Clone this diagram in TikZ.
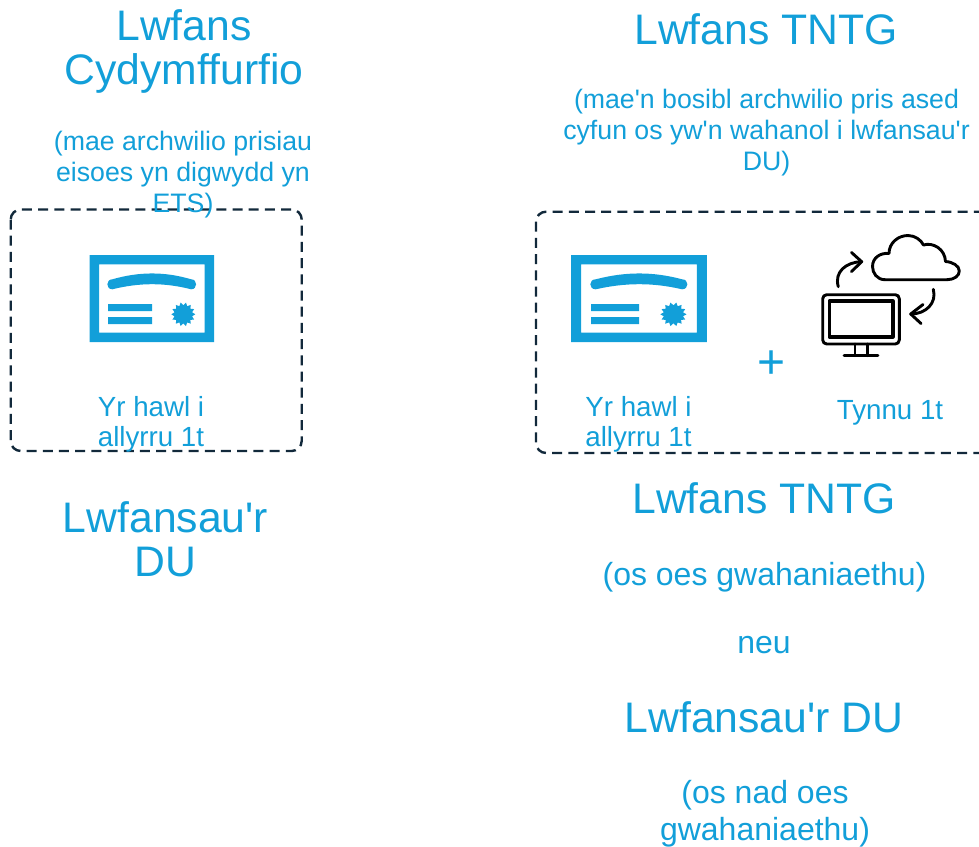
\documentclass[tikz,border=0pt]{standalone}
\usepackage{fontspec}
\newfontfamily\diagfont{Liberation Sans}
\definecolor{brand}{HTML}{129FD9}
\definecolor{boxline}{HTML}{12293B}
\newcommand{\fs}[2]{\diagfont\fontsize{#1}{#2}\selectfont}
\newcommand{\certificate}[3]{%
  \begin{scope}[shift={(#1,#2)},xscale=#3]
    \fill[brand,even odd rule] (0,0) rectangle (124.3,87) (9.3,9.3) rectangle (115,77.7);
    \fill[brand] (22.6,24.3) .. controls (50,16.5) and (75,16.5) .. (101.5,24.3)
      .. controls (108,24.3) and (108,34.3) .. (101.5,34.3)
      .. controls (75,27.5) and (50,27.5) .. (22.6,34.3)
      .. controls (16,34.3) and (16,24.3) .. (22.6,24.3) -- cycle;
    \fill[brand] (18.3,49) rectangle (62.3,56) (18.3,62) rectangle (62.3,69);
    \fill[brand] plot[samples=29,domain=0:360,variable=\a] ({93.6+(mod(round(\a/12.857),2)==0?12:9)*cos(\a)},{59.3+(mod(round(\a/12.857),2)==0?12:9)*sin(\a)}) -- cycle;
  \end{scope}}
\tikzset{
  txt/.style={text=brand,inner sep=0pt,align=center},
  title/.style={txt,font=\fs{42.7}{44.5}},
  small/.style={txt,font=\fs{26.7}{31}},
  label/.style={txt,font=\fs{27.7}{30}},
  mid/.style={txt,font=\fs{32}{37}},
  dashbox/.style={draw=boxline,line width=2.4pt,dash pattern=on 10pt off 6.2pt,rounded corners=10pt},
  icon/.style={draw=black,line width=2.9pt,line cap=round,line join=round}
}
\begin{document}
\begin{tikzpicture}[x=1pt,y=-1pt]
\useasboundingbox (0,0) rectangle (979,846);
\draw[dashbox] (10.7,209.5) rectangle (301.7,451);
\draw[dashbox] (536,211.7) rectangle (1000,453);
\certificate{89.7}{255}{1}
\certificate{571}{255}{1.094}
% monitor
\draw[icon,rounded corners=4pt] (822.7,294.7) rectangle (899.3,344);
\draw[icon,line width=3.6pt] (829.3,301) rectangle (892.7,336.7);
\draw[icon] (855,344) -- (855,355.7) (867.3,344) -- (867.3,355.7) (844,355.7) -- (878,355.7);
% cloud
\draw[icon] (885,279.7) .. controls (877,279.7) and (872.5,273) .. (872.5,266.5)
  .. controls (872.5,258) and (880,252.5) .. (889,253.5)
  .. controls (889,243) and (898,235.5) .. (908,235.5)
  .. controls (915,235.5) and (921,240) .. (923.5,245)
  .. controls (933,242) and (945,249) .. (945.5,261.5)
  .. controls (953,262) and (959.3,266) .. (959.3,271)
  .. controls (959.3,276) and (954,279.7) .. (947,279.7) -- cycle;
% sync arrows
\draw[icon] (838.3,286.7) .. controls (834,272) and (846,262) .. (861.7,261.7);
\draw[icon] (851.5,252.5) -- (861.7,261.7) -- (851.5,271.5);
\draw[icon] (933.3,289.3) .. controls (937,303) and (926,314) .. (910.7,314);
\draw[icon] (923,304.5) -- (910.7,314) -- (921,323.5);
% texts
\node[title] (t1) at (184,51.5) {Lwfans\\Cydymffurfio};
\node[small] (s1) at (183,174.5) {(mae archwilio prisiau\\eisoes yn digwydd yn\\ETS)};
\node[label] (c1) at (151,424) {Yr hawl i\\allyrru 1t};
\node[title] (t2) at (165.5,539) {Lwfansau'r\\DU};
\node[title] (t3) at (766,29) {Lwfans TNTG};
\node[small] (s2) at (766.5,133) {(mae'n bosibl archwilio pris ased\\cyfun os yw'n wahanol i lwfansau'r\\DU)};
\node[label] (c2) at (638.5,424) {Yr hawl i\\allyrru 1t};
\node[txt,font=\fs{48}{48}] (plus) at (772,364.5) {+};
\node[label] (c3) at (890,413) {Tynnu 1t};
\node[title] (t4) at (764,498) {Lwfans TNTG};
\node[mid] (m1) at (764.5,577) {(os oes gwahaniaethu)};
\node[mid] (m2) at (764,645) {neu};
\node[title] (t5) at (764,717) {Lwfansau'r DU};
\node[mid] (m3) at (765,814) {(os nad oes\\gwahaniaethu)};
\end{tikzpicture}
\end{document}
